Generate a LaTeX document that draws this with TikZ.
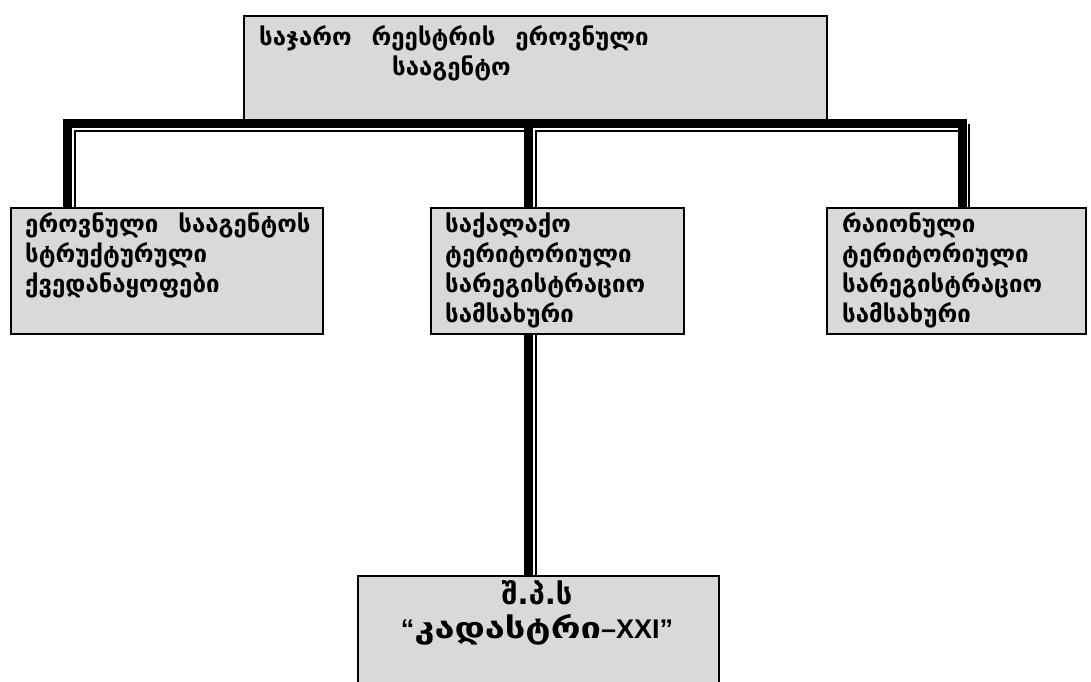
\documentclass[tikz,border=0pt]{standalone}
\usepackage{fontspec}
\setmainfont{DejaVu Sans}
\newfontfamily\latn{Liberation Sans}
\usetikzlibrary{positioning}
\definecolor{boxgray}{RGB}{217,217,217}
\newcommand\topstrut[1][22pt]{\rule{0pt}{#1}}
\newcommand\gap{\hspace{20pt}}
\newcommand\ofcsize{\fontsize{29}{32}\selectfont\bfseries}
\begin{document}
\begin{tikzpicture}[x=1pt,y=-1pt, line join=miter,
  box/.style={draw=black, line width=1.8pt, fill=boxgray, inner sep=0pt, anchor=north west},
  txt/.style={anchor=north west, inner sep=0pt, align=left, font=\fontsize{24}{30}\selectfont\bfseries},
  heavy/.style={line width=9pt}, hair/.style={line width=2pt}]
\useasboundingbox (0,0) rectangle (1091,681);
% boxes
\node[box, minimum width=583, minimum height=106] (top) at (243,15) {};
\node[box, minimum width=312, minimum height=126] (left) at (10,207) {};
\node[box, minimum width=253, minimum height=126] (mid) at (430,207) {};
\node[box, minimum width=259, minimum height=126] (right) at (826,207) {};
\node[box, minimum width=361, minimum height=115] (ofc) at (357,575) {};
% texts
\node[txt] (topT) at (259,23) {\topstrut საჯარო\gap რეესტრის\gap ეროვნული\\\hspace*{133pt}სააგენტო};
\node[txt] (leftT) at (25,210) {\topstrut ეროვნული\gap სააგენტოს\\სტრუქტურული\\ქვედანაყოფები};
\node[txt] (midT) at (445,210) {\topstrut საქალაქო\\ტერიტორიული\\სარეგისტრაციო\\სამსახური};
\node[txt] (rightT) at (842,210) {\topstrut რაიონული\\ტერიტორიული\\სარეგისტრაციო\\სამსახური};
\node[txt, anchor=north, align=center, font=\fontsize{27}{32}\selectfont\bfseries] (ofcT) at (537,580)
  {{\ofcsize\topstrut[24pt]შ.პ.ს}\\[2pt]{\latn\bfseries “}{\ofcsize\scalebox{1.25}[1]{კადასტრი}}{\latn\bfseries –XXI”}};
% connectors
\path (67.5,123.5) coordinate (barL) (528.3,123.5) coordinate (barM) (962.3,123.5) coordinate (barR)
      (74.5,131) coordinate (thinL) (535.5,131) coordinate (thinM) (968.6,131) coordinate (thinR);
\draw[hair] (thinL |- left.north) -- (thinL) -- (barM |- thinL);
\draw[hair] (thinM |- mid.north) -- (thinM) -- (barR |- thinM);
\draw[hair] (thinR |- barR) -- (thinR |- right.north);
\draw[hair] (thinM |- mid.south) -- (thinM |- ofc.north);
\draw[heavy] (barL |- left.north) -- (barL) -- (barR) -- (barR |- right.north);
\draw[heavy] (barM) -- (barM |- mid.north);
\draw[heavy] (barM |- mid.south) -- (barM |- ofc.north);
\end{tikzpicture}
\end{document}
